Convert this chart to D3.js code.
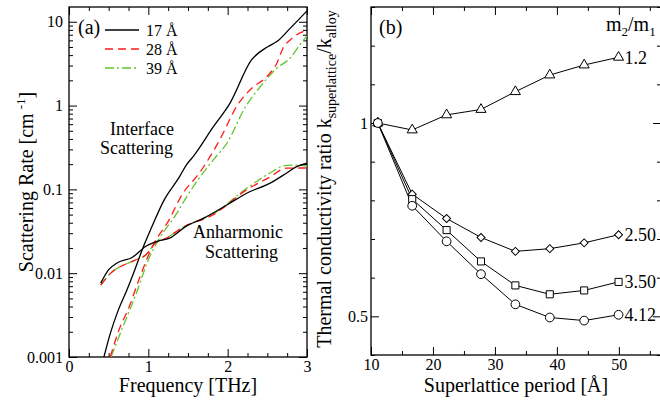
<!DOCTYPE html>
<html>
<head>
<meta charset="utf-8">
<script src="https://cdn.jsdelivr.net/npm/d3@7"></script>
<style>
  body { margin: 0; background: #fff; }
  svg text { font-family: "Liberation Serif", "Times New Roman", serif; fill: #000; }
  .axis path { stroke: none; }
  .axis line { stroke: #000; stroke-width: 1; }
</style>
</head>
<body>
<div id="chart"></div>
<script>
const width = 660
const height = 405

// ---- panel (a): scattering rate [cm^-1] vs frequency [THz] ----
const interface17 = [[0.44,0.001],[0.52,0.0019],[0.62,0.0036],[0.73,0.0063],[0.83,0.011],[0.94,0.021],[1.04,0.035],[1.2,0.075],[1.39,0.14],[1.48,0.196],[1.57,0.25],[1.82,0.56],[2.03,1.07],[2.30,3.5],[2.51,5.07],[2.62,5.8],[2.79,8.4],[3.0,13.5]]
const interface28 = [[0.52,0.001],[0.63,0.0021],[0.76,0.004],[0.88,0.0083],[1.05,0.0207],[1.26,0.043],[1.42,0.085],[1.65,0.16],[1.74,0.215],[1.90,0.39],[2.12,1.0],[2.30,1.6],[2.49,2.2],[2.62,3.2],[2.70,4.9],[2.79,6.1],[3.0,8.0]]
const interface39 = [[0.53,0.001],[0.68,0.0023],[0.85,0.0058],[1.0,0.0145],[1.15,0.027],[1.36,0.052],[1.46,0.075],[1.65,0.14],[1.82,0.225],[1.99,0.355],[2.22,0.95],[2.43,1.77],[2.62,2.8],[2.79,3.7],[2.91,5.3],[3.0,6.8]]
const anharm17 = [[0.4,0.0076],[0.5,0.011],[0.61,0.0133],[0.8,0.0155],[0.97,0.021],[1.13,0.0243],[1.26,0.026],[1.47,0.036],[1.69,0.045],[2.0,0.066],[2.24,0.09],[2.53,0.118],[2.74,0.156],[2.87,0.187],[3.0,0.205]]
const anharm28 = [[0.4,0.0072],[0.55,0.0105],[0.65,0.012],[0.84,0.0144],[0.97,0.0166],[1.09,0.023],[1.22,0.026],[1.43,0.035],[1.82,0.05],[2.24,0.099],[2.53,0.14],[2.74,0.179],[3.0,0.18]]
const anharm39 = [[0.4,0.0072],[0.55,0.0105],[0.65,0.012],[0.84,0.0144],[0.97,0.0166],[1.09,0.023],[1.22,0.026],[1.43,0.035],[1.82,0.051],[2.24,0.103],[2.53,0.156],[2.7,0.19],[2.85,0.195],[3.0,0.19]]
const periodLabels = ["17 Å", "28 Å", "39 Å"]

// ---- panel (b): conductivity ratio vs superlattice period [Å] ----
const periods = [11.1, 16.65, 22.2, 27.75, 33.3, 38.85, 44.4, 49.95]
const ratio12 = [1.0, 0.982, 1.021, 1.035, 1.081, 1.124, 1.15, 1.17]
const ratio250 = [1.0, 0.816, 0.753, 0.704, 0.668, 0.675, 0.690, 0.711]
const ratio350 = [1.0, 0.803, 0.723, 0.642, 0.580, 0.557, 0.567, 0.589]
const ratio412 = [1.0, 0.786, 0.694, 0.609, 0.531, 0.497, 0.489, 0.504]
const massLabels = ["1.2", "2.50", "3.50", "4.12"]

const svg = d3.select("#chart").append("svg")
  .attr("width", width)
  .attr("height", height)

// draws inward ticks on all four sides, labels only left/bottom
function drawFrame(x, y, xMajor, xMinor, yMajor, yMinor, xFmt, yFmt, yPad) {
  const [x0, x1] = x.range()
  const [y0, y1] = y.range()   // y0 bottom, y1 top
  const g = svg.append("g")
  const noText = sel => sel.selectAll("text").remove()

  g.append("g").attr("class", "axis").attr("transform", `translate(0,${y0})`)
    .call(d3.axisBottom(x).tickValues(xMajor).tickSize(-8).tickPadding(4).tickFormat(xFmt))
  g.append("g").attr("class", "axis").attr("transform", `translate(0,${y0})`)
    .call(d3.axisBottom(x).tickValues(xMinor).tickSize(-4)).call(noText)
  g.append("g").attr("class", "axis").attr("transform", `translate(0,${y1})`)
    .call(d3.axisTop(x).tickValues(xMajor).tickSize(-8)).call(noText)
  g.append("g").attr("class", "axis").attr("transform", `translate(0,${y1})`)
    .call(d3.axisTop(x).tickValues(xMinor).tickSize(-4)).call(noText)

  g.append("g").attr("class", "axis").attr("transform", `translate(${x0},0)`)
    .call(d3.axisLeft(y).tickValues(yMajor).tickSize(-8).tickPadding(yPad).tickFormat(yFmt))
  g.append("g").attr("class", "axis").attr("transform", `translate(${x0},0)`)
    .call(d3.axisLeft(y).tickValues(yMinor).tickSize(-4)).call(noText)
  g.append("g").attr("class", "axis").attr("transform", `translate(${x1},0)`)
    .call(d3.axisRight(y).tickValues(yMajor).tickSize(-8)).call(noText)
  g.append("g").attr("class", "axis").attr("transform", `translate(${x1},0)`)
    .call(d3.axisRight(y).tickValues(yMinor).tickSize(-4)).call(noText)

  g.selectAll(".axis text").style("font-size", "16px").style("font-family", '"Liberation Serif", serif')

  g.append("rect")
    .attr("x", x0).attr("y", y1)
    .attr("width", x1 - x0).attr("height", y0 - y1)
    .attr("fill", "none").attr("stroke", "#000").attr("stroke-width", 1.3)
}

// ================= panel (a) =================
const xa = d3.scaleLinear().domain([0, 3]).range([69, 307])
const ya = d3.scaleLog().domain([0.001, 15]).range([357, 7])

let logMinor = []
for (let d = -3; d <= 1; d++) {
  for (let k = 2; k <= 9; k++) {
    const v = k * Math.pow(10, d)
    if (v < 15) logMinor.push(v)
  }
}
const fmtA = d => d >= 1 ? d3.format("d")(d) : d3.format("")(+d.toPrecision(1))

drawFrame(xa, ya, [0, 1, 2, 3], d3.range(0.25, 3, 0.25).filter(v => v % 1 !== 0),
  [0.001, 0.01, 0.1, 1, 10], logMinor, d3.format("d"), fmtA, 6)

svg.append("clipPath").attr("id", "clipA")
  .append("rect").attr("x", 69).attr("y", 7).attr("width", 238).attr("height", 350)

const lineA = d3.line()
  .x(d => xa(d[0]))
  .y(d => ya(d[1]))
  .curve(d3.curveMonotoneX)

const styles = [
  { color: "#000000", dash: null },
  { color: "#ff1a1a", dash: "8,5" },
  { color: "#66c22e", dash: "9,3,2,3" }
]
const curveSets = [[interface17, anharm17], [interface28, anharm28], [interface39, anharm39]]

const gA = svg.append("g").attr("clip-path", "url(#clipA)")
// draw green first so black sits on top
for (let i = curveSets.length - 1; i >= 0; i--) {
  curveSets[i].forEach(data => {
    gA.append("path")
      .datum(data)
      .attr("d", lineA)
      .attr("fill", "none")
      .attr("stroke", styles[i].color)
      .attr("stroke-width", 1.3)
      .attr("stroke-dasharray", styles[i].dash)
  })
}

svg.append("text").attr("x", 78).attr("y", 34).style("font-size", "20px").text("(a)")

const legend = svg.append("g")
periodLabels.forEach((lab, i) => {
  const yy = 30 + i * 19
  legend.append("line")
    .attr("x1", 105).attr("x2", 139).attr("y1", yy).attr("y2", yy)
    .attr("stroke", styles[i].color).attr("stroke-width", 1.3)
    .attr("stroke-dasharray", styles[i].dash)
  legend.append("text").attr("x", 146).attr("y", yy + 6)
    .style("font-size", "16px").text(lab)
})

svg.append("text").attr("x", 110).attr("y", 135).style("font-size", "18px").text("Interface")
svg.append("text").attr("x", 100).attr("y", 154).style("font-size", "18px").text("Scattering")
svg.append("text").attr("x", 193).attr("y", 238).style("font-size", "18px").text("Anharmonic")
svg.append("text").attr("x", 205).attr("y", 258).style("font-size", "18px").text("Scattering")

svg.append("text").attr("x", 188).attr("y", 392).attr("text-anchor", "middle")
  .style("font-size", "20px").text("Frequency [THz]")

const ylabA = svg.append("text")
  .attr("transform", "translate(33,182) rotate(-90)")
  .attr("text-anchor", "middle")
  .style("font-size", "20px")
ylabA.append("tspan").text("Scattering Rate [cm")
ylabA.append("tspan").attr("dx", 4).attr("dy", -8).style("font-size", "13px").text("-1")
ylabA.append("tspan").attr("dy", 8).text("]")

// ================= panel (b) =================
const xb = d3.scaleLinear().domain([10, 56.8]).range([371, 661])
const yb = d3.scaleLinear().domain([0.4, 1.3]).range([355, 7])

drawFrame(xb, yb, [10, 20, 30, 40, 50], [15, 25, 35, 45, 55],
  [0.5, 1], [0.4, 0.6, 0.7, 0.8, 0.9, 1.1, 1.2, 1.3], d3.format("d"), d3.format(""), 3)

const seriesB = [ratio12, ratio250, ratio350, ratio412]
const symbols = [d3.symbolTriangle, d3.symbolSquare, d3.symbolSquare, d3.symbolCircle]
const symSizes = [44, 32, 50, 60]
const symRotate = [0, 45, 0, 0]

const lineB = d3.line()
  .x((d, i) => xb(periods[i]))
  .y(d => yb(d))

seriesB.forEach((vals, s) => {
  svg.append("path")
    .datum(vals)
    .attr("d", lineB)
    .attr("fill", "none")
    .attr("stroke", "#000")
    .attr("stroke-width", 1)
})

seriesB.forEach((vals, s) => {
  svg.append("g").selectAll("path")
    .data(vals)
    .join("path")
      .attr("d", d3.symbol().type(symbols[s]).size(symSizes[s]))
      .attr("transform", (d, i) => `translate(${xb(periods[i])},${yb(d)}) rotate(${symRotate[s]})`)
      .attr("fill", "#fff")
      .attr("stroke", "#000")
      .attr("stroke-width", 1)

  const last = vals.length - 1
  svg.append("text")
    .attr("x", xb(periods[last]) + 6)
    .attr("y", yb(vals[last]))
    .attr("dy", "0.35em")
    .style("font-size", "18px")
    .text(massLabels[s])
})

svg.append("text").attr("x", 379).attr("y", 34).style("font-size", "20px").text("(b)")

const mLab = svg.append("text").attr("x", 606).attr("y", 31).style("font-size", "20px")
mLab.append("tspan").text("m")
mLab.append("tspan").attr("dy", 5).style("font-size", "13px").text("2")
mLab.append("tspan").attr("dy", -5).text("/m")
mLab.append("tspan").attr("dy", 5).style("font-size", "13px").text("1")

svg.append("text").attr("x", 516).attr("y", 392).attr("text-anchor", "middle")
  .style("font-size", "20px").text("Superlattice period [Å]")

const ylabB = svg.append("text")
  .attr("transform", "translate(331,179) rotate(-90)")
  .attr("text-anchor", "middle")
  .style("font-size", "20px")
ylabB.append("tspan").text("Thermal conductivity ratio k")
ylabB.append("tspan").attr("dy", 5).style("font-size", "14px").text("superlattice")
ylabB.append("tspan").attr("dy", -5).text("/k")
ylabB.append("tspan").attr("dy", 5).style("font-size", "14px").text("alloy")
</script>
</body>
</html>
